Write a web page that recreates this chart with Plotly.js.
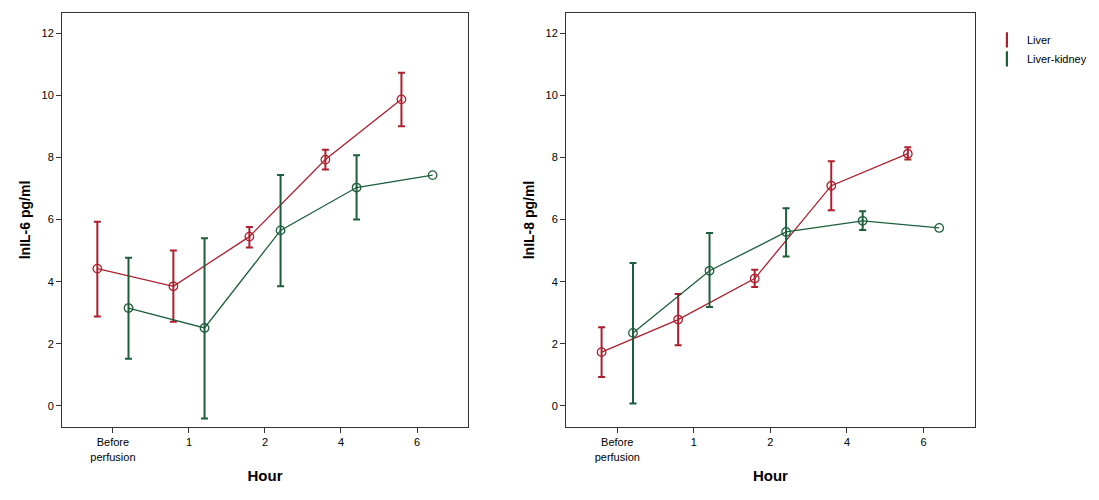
<!DOCTYPE html>
<html>
<head>
<meta charset="utf-8">
<script src="https://cdn.plot.ly/plotly-3.0.1.min.js"></script>
<style>html,body{margin:0;padding:0;background:#fff;}#chart{width:1099px;height:500px;}</style>
</head>
<body>
<div id="chart"></div>
<script>
// Categories and tick labels
const categories = ["Before perfusion", "1", "2", "4", "6"];
const tickLabels = ["Before<br>perfusion", "1", "2", "4", "6"];

// Left panel: lnIL-6 (mean, upper, lower)
const il6LiverMean = [4.42, 3.85, 5.45, 7.93, 9.87];
const il6LiverUpper = [5.93, 5.00, 5.76, 8.25, 10.73];
const il6LiverLower = [2.88, 2.71, 5.10, 7.61, 9.00];
const il6KidneyMean = [3.15, 2.51, 5.65, 7.03, 7.43];
const il6KidneyUpper = [4.77, 5.40, 7.43, 8.07, null];
const il6KidneyLower = [1.52, -0.41, 3.85, 6.00, null];

// Right panel: lnIL-8 (mean, upper, lower)
const il8LiverMean = [1.73, 2.78, 4.10, 7.09, 8.12];
const il8LiverUpper = [2.53, 3.60, 4.38, 7.88, 8.33];
const il8LiverLower = [0.93, 1.95, 3.83, 6.30, 7.93];
const il8KidneyMean = [2.35, 4.35, 5.60, 5.96, 5.73];
const il8KidneyUpper = [4.60, 5.57, 6.36, 6.27, null];
const il8KidneyLower = [0.08, 3.18, 4.81, 5.66, null];

const seriesNames = ["Liver", "Liver-kidney"];
const RED = "#ad1f2e";
const GREEN = "#1d5e3b";

const idx = categories.map((c, i) => i);
function errUp(mean, up) { return mean.map((m, i) => up[i] === null ? NaN : up[i] - m); }
function errDn(mean, lo) { return mean.map((m, i) => lo[i] === null ? NaN : m - lo[i]); }

function trace(mean, up, lo, offset, color, xa, ya, name) {
  return {
    type: "scatter", mode: "lines+markers", name: name, showlegend: false,
    x: idx.map(i => i + offset), y: mean, xaxis: xa, yaxis: ya,
    line: {color: color, width: 1.3},
    marker: {symbol: "circle-open", size: 8.5, color: color, line: {color: color, width: 1.3}},
    error_y: {type: "data", symmetric: false, array: errUp(mean, up), arrayminus: errDn(mean, lo),
              color: color, thickness: 2, width: 3.5},
    hoverinfo: "skip"
  };
}

const off = 0.205;
const data = [
  trace(il6LiverMean, il6LiverUpper, il6LiverLower, -off, RED, "x", "y", seriesNames[0]),
  trace(il6KidneyMean, il6KidneyUpper, il6KidneyLower, off, GREEN, "x", "y", seriesNames[1]),
  trace(il8LiverMean, il8LiverUpper, il8LiverLower, -off, RED, "x2", "y2", seriesNames[0]),
  trace(il8KidneyMean, il8KidneyUpper, il8KidneyLower, off, GREEN, "x2", "y2", seriesNames[1]),
  {type: "scatter", mode: "markers", name: seriesNames[0], x: [null], y: [null], xaxis: "x2", yaxis: "y2",
   marker: {symbol: "line-ns-open", size: 11, color: RED, line: {color: RED, width: 2.2}}},
  {type: "scatter", mode: "markers", name: seriesNames[1], x: [null], y: [null], xaxis: "x2", yaxis: "y2",
   marker: {symbol: "line-ns-open", size: 11, color: GREEN, line: {color: GREEN, width: 2.2}}}
];

const tickFont = {family: "Liberation Sans, Arial, sans-serif", size: 11, color: "#000"};
const titleFont = {family: "Liberation Sans, Arial, sans-serif", size: 15, color: "#000"};

function xaxis(domain, anchor) {
  return {domain: domain, anchor: anchor, range: [-0.67, 4.67], tickmode: "array",
    tickvals: idx, ticktext: tickLabels, ticks: "outside", ticklen: 5, tickcolor: "#333",
    showgrid: false, zeroline: false, showline: true, linecolor: "#333", linewidth: 1, mirror: true,
    tickfont: tickFont, title: {text: "<b>Hour</b>", font: titleFont, standoff: 8}};
}
function yaxis(anchor, label) {
  return {anchor: anchor, range: [-0.68, 12.65], tickvals: [0, 2, 4, 6, 8, 10, 12],
    ticks: "outside", ticklen: 5, tickcolor: "#333", showgrid: false, zeroline: false,
    showline: true, linecolor: "#333", linewidth: 1, mirror: true, tickfont: tickFont,
    title: {text: "<b>" + label + "</b>", font: {family: titleFont.family, size: 14, color: "#000"}, standoff: 7}};
}

const layout = {
  width: 1099, height: 500, paper_bgcolor: "#fff", plot_bgcolor: "#fff",
  margin: {l: 0, r: 0, t: 13, b: 73},
  xaxis: xaxis([0.0564, 0.4258], "y"),
  yaxis: yaxis("x", "lnIL-6 pg/ml"),
  xaxis2: xaxis([0.515, 0.887], "y2"),
  yaxis2: yaxis("x2", "lnIL-8 pg/ml"),
  showlegend: true,
  legend: {x: 0.898, y: 0.97, xanchor: "left", yanchor: "top", font: {family: tickFont.family, size: 11, color: "#000"},
           bgcolor: "rgba(0,0,0,0)", tracegroupgap: 0, itemwidth: 30}
};

Plotly.newPlot("chart", data, layout, {displayModeBar: false, staticPlot: true});
</script>
</body>
</html>
